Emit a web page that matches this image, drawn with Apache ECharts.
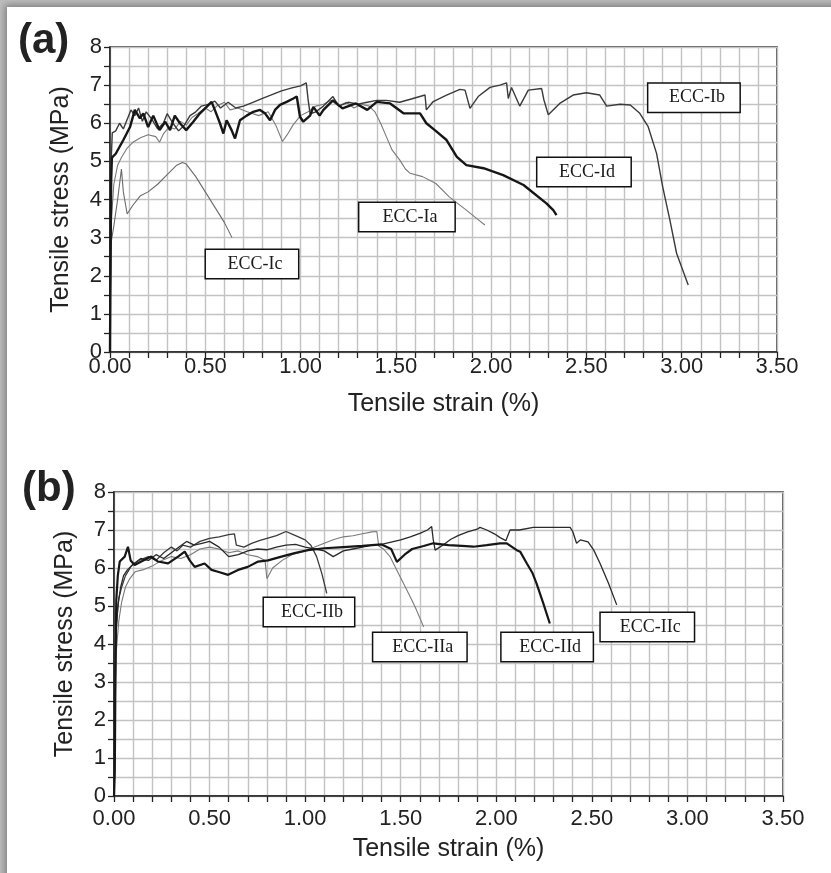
<!DOCTYPE html>
<html>
<head>
<meta charset="utf-8">
<script src="https://cdn.jsdelivr.net/npm/echarts@6/dist/echarts.min.js"></script>
<style>
html,body{margin:0;padding:0;background:#bdbdbd;overflow:hidden;}
#card{position:absolute;left:7px;top:7px;width:900px;height:950px;background:#fff;box-shadow:0 0 7px 2px rgba(0,0,0,0.35);}
#chart{position:absolute;left:0;top:0;width:831px;height:873px;}
</style>
</head>
<body>
<div id="card"></div>
<div id="chart"></div>
<script>
// ---- Data: [tensile strain (%), tensile stress (MPa)] ----
const eccIa = [[0,0],[0.003,2.0],[0.008,3.5],[0.02,4.4],[0.04,4.9],[0.06,5.1],[0.09,5.35],[0.12,5.5],[0.16,5.62],[0.2,5.7],[0.24,5.65],[0.26,5.5],[0.28,5.72],[0.31,5.9],[0.34,5.85],[0.37,6.05],[0.40,5.95],[0.43,6.15],[0.46,6.25],[0.5,6.4],[0.53,6.3],[0.56,6.45],[0.6,6.55],[0.63,6.35],[0.67,6.4],[0.72,6.3],[0.78,6.2],[0.83,6.3],[0.87,5.95],[0.905,5.52],[0.93,5.7],[0.96,5.95],[1.0,6.2],[1.04,6.3],[1.08,6.45],[1.12,6.5],[1.16,6.6],[1.2,6.45],[1.24,6.55],[1.28,6.4],[1.32,6.5],[1.36,6.45],[1.39,6.3],[1.42,6.0],[1.45,5.65],[1.48,5.3],[1.52,5.04],[1.55,4.8],[1.574,4.69],[1.64,4.6],[1.71,4.42],[1.78,4.07],[1.87,3.72],[1.93,3.48],[1.967,3.33]];
const eccIb = [[0,0],[0.003,3.0],[0.006,5.0],[0.012,5.75],[0.03,5.8],[0.05,6.0],[0.07,5.85],[0.09,6.1],[0.11,6.35],[0.13,6.2],[0.15,6.4],[0.17,6.05],[0.19,6.3],[0.22,6.1],[0.25,5.85],[0.28,6.0],[0.30,6.25],[0.33,6.0],[0.36,5.8],[0.39,5.95],[0.42,6.2],[0.45,6.3],[0.48,6.45],[0.52,6.5],[0.55,6.58],[0.58,6.4],[0.62,6.55],[0.66,6.4],[0.70,6.45],[0.75,6.55],[0.80,6.65],[0.85,6.75],[0.90,6.85],[0.95,6.92],[1.00,6.98],[1.03,7.06],[1.04,6.6],[1.05,6.25],[1.08,6.3],[1.12,6.45],[1.17,6.7],[1.20,6.45],[1.25,6.55],[1.30,6.5],[1.35,6.55],[1.40,6.6],[1.45,6.6],[1.52,6.55],[1.59,6.65],[1.653,6.74],[1.66,6.35],[1.696,6.57],[1.766,6.74],[1.836,6.89],[1.863,6.87],[1.889,6.39],[1.932,6.70],[1.994,6.94],[2.046,7.0],[2.081,7.06],[2.09,6.65],[2.107,6.94],[2.15,6.45],[2.195,6.87],[2.265,6.91],[2.277,6.61],[2.30,6.22],[2.36,6.52],[2.43,6.74],[2.50,6.80],[2.57,6.74],[2.606,6.45],[2.676,6.50],[2.73,6.48],[2.78,6.26],[2.824,5.91],[2.868,5.21],[2.90,4.34],[2.938,3.46],[2.973,2.59],[3.034,1.76]];
const eccIc = [[0,0],[0.005,2.85],[0.02,3.3],[0.04,4.0],[0.06,4.8],[0.07,4.2],[0.09,3.62],[0.12,3.85],[0.16,4.1],[0.2,4.2],[0.25,4.4],[0.3,4.65],[0.35,4.9],[0.38,4.97],[0.4,4.93],[0.45,4.6],[0.5,4.2],[0.55,3.8],[0.6,3.4],[0.64,3.0]];
const eccId = [[0,0],[0.003,2.5],[0.006,4.5],[0.01,5.1],[0.03,5.2],[0.07,5.56],[0.105,5.9],[0.13,6.35],[0.157,6.13],[0.175,6.26],[0.2,5.9],[0.227,6.2],[0.26,5.82],[0.29,6.04],[0.315,5.82],[0.34,6.2],[0.367,6.0],[0.40,5.82],[0.437,6.04],[0.472,6.26],[0.507,6.43],[0.533,6.56],[0.55,6.35],[0.577,6.0],[0.595,5.73],[0.612,6.08],[0.638,5.82],[0.656,5.6],[0.682,6.08],[0.717,6.2],[0.752,6.3],[0.787,6.35],[0.813,6.26],[0.84,6.08],[0.866,6.35],[0.892,6.48],[0.927,6.56],[0.962,6.65],[0.98,6.7],[0.997,6.17],[1.014,6.04],[1.05,6.2],[1.067,6.43],[1.1,6.2],[1.12,6.35],[1.17,6.6],[1.22,6.39],[1.29,6.52],[1.35,6.35],[1.4,6.56],[1.47,6.52],[1.54,6.26],[1.627,6.26],[1.66,6.0],[1.714,5.78],[1.766,5.56],[1.82,5.12],[1.87,4.9],[1.96,4.82],[2.063,4.64],[2.17,4.38],[2.29,3.9],[2.326,3.72],[2.343,3.59]];

const eccIIa = [[0,0],[0.005,2.0],[0.012,3.8],[0.025,4.6],[0.04,5.1],[0.06,5.5],[0.08,5.7],[0.11,5.9],[0.15,5.95],[0.2,6.05],[0.25,6.2],[0.3,6.3],[0.35,6.25],[0.4,6.35],[0.45,6.5],[0.5,6.55],[0.55,6.5],[0.6,6.4],[0.65,6.45],[0.7,6.35],[0.75,6.3],[0.79,6.2],[0.8,5.72],[0.83,6.0],[0.88,6.2],[0.93,6.35],[1.0,6.45],[1.05,6.55],[1.1,6.65],[1.15,6.75],[1.2,6.82],[1.25,6.85],[1.3,6.9],[1.35,6.95],[1.375,6.96],[1.385,6.58],[1.41,6.5],[1.444,6.3],[1.479,5.95],[1.532,5.42],[1.575,4.98],[1.62,4.45]];
const eccIIb = [[0,0],[0.005,2.5],[0.012,4.5],[0.025,5.2],[0.04,5.5],[0.06,5.8],[0.09,6.05],[0.13,6.2],[0.18,6.3],[0.22,6.2],[0.26,6.4],[0.3,6.55],[0.33,6.45],[0.36,6.6],[0.4,6.55],[0.45,6.7],[0.5,6.78],[0.55,6.82],[0.6,6.88],[0.63,6.9],[0.64,6.6],[0.68,6.55],[0.72,6.65],[0.76,6.72],[0.8,6.78],[0.85,6.85],[0.9,6.96],[0.95,6.85],[1.0,6.74],[1.03,6.6],[1.06,6.3],[1.087,5.86],[1.113,5.33]];
const eccIIc = [[0,0],[0.004,2.5],[0.01,4.2],[0.02,5.0],[0.035,5.5],[0.05,5.8],[0.07,5.95],[0.1,6.1],[0.14,6.25],[0.18,6.2],[0.22,6.35],[0.26,6.25],[0.3,6.4],[0.34,6.55],[0.38,6.7],[0.42,6.6],[0.46,6.65],[0.5,6.7],[0.55,6.55],[0.6,6.3],[0.65,6.35],[0.7,6.45],[0.75,6.5],[0.8,6.48],[0.85,6.55],[0.9,6.6],[0.95,6.62],[1.0,6.55],[1.05,6.5],[1.1,6.45],[1.147,6.3],[1.2,6.45],[1.25,6.5],[1.3,6.55],[1.35,6.6],[1.4,6.62],[1.45,6.68],[1.5,6.74],[1.55,6.82],[1.6,6.91],[1.64,7.0],[1.662,7.09],[1.67,6.75],[1.68,6.47],[1.72,6.6],[1.76,6.75],[1.8,6.85],[1.85,6.95],[1.9,7.02],[1.915,7.07],[1.95,7.0],[1.99,6.9],[2.02,6.8],[2.05,6.72],[2.072,7.0],[2.12,7.0],[2.194,7.07],[2.3,7.07],[2.386,7.07],[2.40,6.96],[2.42,6.65],[2.44,6.74],[2.48,6.69],[2.51,6.47],[2.543,6.12],[2.587,5.6],[2.63,5.03]];
const eccIId = [[0,0],[0.004,0.6],[0.006,2.0],[0.008,3.7],[0.012,5.16],[0.02,5.8],[0.03,6.17],[0.056,6.3],[0.073,6.56],[0.087,6.2],[0.108,6.08],[0.143,6.17],[0.195,6.3],[0.23,6.17],[0.283,6.12],[0.335,6.3],[0.37,6.43],[0.396,6.2],[0.422,6.03],[0.474,6.12],[0.51,5.95],[0.544,5.9],[0.597,5.82],[0.649,5.95],[0.70,6.03],[0.754,6.17],[0.806,6.2],[0.876,6.3],[0.945,6.39],[1.015,6.47],[1.1,6.52],[1.2,6.55],[1.3,6.58],[1.4,6.62],[1.45,6.5],[1.48,6.16],[1.52,6.35],[1.56,6.5],[1.62,6.58],[1.67,6.65],[1.75,6.6],[1.82,6.58],[1.88,6.56],[1.95,6.6],[2.02,6.65],[2.055,6.65],[2.107,6.47],[2.125,6.43],[2.16,6.12],[2.19,5.86],[2.21,5.6],[2.246,5.07],[2.28,4.54]];

// Annotation box anchors [strain, stress]
const labelsA = {"ECC-Ia":[1.558,3.54],"ECC-Ib":[3.064,6.67],"ECC-Ic":[0.745,2.31],"ECC-Id":[2.487,4.72]};
const labelsB = {"ECC-IIa":[1.60,3.92],"ECC-IIb":[1.02,4.84],"ECC-IIc":[2.79,4.45],"ECC-IId":[2.266,3.92]};

const panelTags = ["(a)","(b)"];
const xTitle = "Tensile strain (%)";
const yTitle = "Tensile stress (MPa)";

const SANS = '"Liberation Sans", Arial, sans-serif';
const SERIF = '"Liberation Serif", "Times New Roman", serif';
const INK = '#222';
const GRIDC = '#c2c2c2';

function xAx(gi, labelMargin, nameGap){
  return {
    type:'value', gridIndex:gi, min:0, max:3.5, interval:0.5,
    axisLine:{show:true, onZero:false, lineStyle:{color:INK, width:1.5}},
    axisTick:{show:true, inside:false, length:6, lineStyle:{color:INK, width:1.3}},
    minorTick:{show:true, splitNumber:5, length:6, lineStyle:{color:INK, width:1.3}},
    splitLine:{show:true, lineStyle:{color:GRIDC, width:1.4}},
    minorSplitLine:{show:true, lineStyle:{color:GRIDC, width:1.4}},
    axisLabel:{formatter:v=>v.toFixed(2), fontFamily:SANS, fontSize:22, color:INK, margin:labelMargin},
    name:xTitle, nameLocation:'middle', nameGap:nameGap,
    nameTextStyle:{fontFamily:SANS, fontSize:25, color:INK}
  };
}
function yAx(gi){
  return {
    type:'value', gridIndex:gi, min:0, max:8, interval:1,
    axisLine:{show:true, onZero:false, lineStyle:{color:INK, width:1.5}},
    axisTick:{show:true, inside:false, length:6, lineStyle:{color:INK, width:1.3}},
    minorTick:{show:true, splitNumber:2, length:6, lineStyle:{color:INK, width:1.3}},
    splitLine:{show:true, lineStyle:{color:GRIDC, width:1.4}},
    minorSplitLine:{show:true, lineStyle:{color:GRIDC, width:1.4}},
    axisLabel:{fontFamily:SANS, fontSize:22, color:INK, margin:8},
    name:yTitle, nameLocation:'middle', nameGap:36,
    nameTextStyle:{fontFamily:SANS, fontSize:25, color:INK}
  };
}
function boxMark(labels, name, w){
  return {
    symbol:'rect', symbolSize:1, silent:true,
    itemStyle:{color:'rgba(0,0,0,0)'},
    label:{show:true, position:'inside', formatter:name, fontFamily:SERIF, fontSize:18, color:'#1a1a1a',
      backgroundColor:'#fff', borderColor:'#111', borderWidth:1.5, width:w-32, height:18, lineHeight:18,
      align:'center', verticalAlign:'middle', padding:[5,13,5,19]},
    data:[{coord:labels[name], value:name}]
  };
}
function line(data, gi, color, width, z, labels, name, w){
  return {
    type:'line', name:name, data:data, xAxisIndex:gi, yAxisIndex:gi,
    showSymbol:false, symbol:'none', smooth:false, z:z,
    lineStyle:{color:color, width:width},
    markPoint: boxMark(labels, name, w)
  };
}

const chart = echarts.init(document.getElementById('chart'), null, {renderer:'canvas'});
chart.setOption({
  backgroundColor:'transparent',
  animation:false,
  grid:[
    {left:110, top:47, width:667, height:305, show:true, borderColor:INK, borderWidth:1.5, backgroundColor:'#fff'},
    {left:114, top:492, width:669, height:304, show:true, borderColor:INK, borderWidth:1.5, backgroundColor:'#fff'}
  ],
  xAxis:[xAx(0, 4, 40), xAx(1, 12, 41)],
  yAxis:[yAx(0), yAx(1)],
  graphic:[
    {type:'text', left:18, top:20, style:{text:panelTags[0], font:'bold 42px '+SANS, fill:INK}},
    {type:'text', left:22, top:468, style:{text:panelTags[1], font:'bold 42px '+SANS, fill:INK}}
  ],
  series:[
    line(eccIc, 0, '#6a6a6a', 1.1, 3, labelsA, 'ECC-Ic', 92),
    line(eccIa, 0, '#7a7a7a', 1.1, 4, labelsA, 'ECC-Ia', 95),
    line(eccIb, 0, '#3a3a3a', 1.4, 5, labelsA, 'ECC-Ib', 91),
    line(eccId, 0, '#161616', 2.4, 6, labelsA, 'ECC-Id', 93),
    line(eccIIa, 1, '#7a7a7a', 1.1, 4, labelsB, 'ECC-IIa', 93),
    line(eccIIb, 1, '#3a3a3a', 1.3, 5, labelsB, 'ECC-IIb', 90),
    line(eccIIc, 1, '#2a2a2a', 1.3, 5, labelsB, 'ECC-IIc', 93),
    line(eccIId, 1, '#161616', 2.2, 6, labelsB, 'ECC-IId', 91)
  ]
});
</script>
</body>
</html>
